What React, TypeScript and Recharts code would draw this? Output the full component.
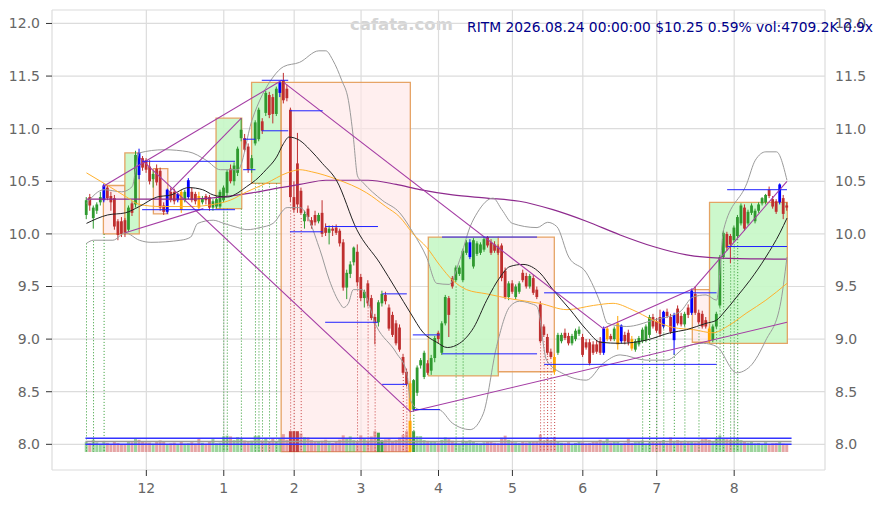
import React from 'react';
import {
  ComposedChart, Bar, Line, XAxis, YAxis, CartesianGrid,
  ReferenceArea, ReferenceLine, Cell,
} from 'recharts';

// ---------- axis labels ----------
const monthTicks = [17, 39, 59, 78, 100, 121, 141, 162, 184];
const monthLabels = ['12', '1', '2', '3', '4', '5', '6', '7', '8'];
const priceTicks = [8, 8.5, 9, 9.5, 10, 10.5, 11, 11.5, 12];
const titleText = 'RITM 2026.08.24 00:00:00 $10.25 0.59% vol:4709.2K 0.9x';
const watermark = 'cafata.com';

// ---------- daily candles (Nov 5 2025 .. Aug 24 2026) ----------
const opens = [
  10.18, 10.35, 10.15, 10.22, 10.30, 10.32, 10.44, 10.36, 10.34, 10.12,
  10.12, 10.13, 10.04, 10.29, 10.28, 10.77, 10.72, 10.70, 10.64, 10.52,
  10.62, 10.60, 10.27, 10.21, 10.40, 10.40, 10.32, 10.40, 10.32, 10.35,
  10.40, 10.38, 10.36, 10.30, 10.36, 10.35, 10.25, 10.26, 10.26, 10.32,
  10.39, 10.62, 10.50, 10.58, 10.91, 10.91, 10.83, 10.62, 10.86, 10.90,
  11.07, 11.15, 11.32, 11.30, 11.14, 11.34, 11.46, 11.38, 11.18, 10.35,
  10.67, 10.41, 10.12, 10.24, 10.13, 10.18, 10.12, 10.20, 10.06, 10.01,
  10.05, 10.06, 10.03, 9.92, 9.49, 9.62, 9.73, 9.83, 9.59, 9.39,
  9.53, 9.39, 9.21, 9.16, 9.34, 9.42, 9.30, 9.23, 9.15, 9.11,
  8.83, 8.69, 8.58, 8.33, 8.49, 8.75, 8.64, 8.77, 8.70, 8.82,
  9.06, 8.87, 9.15, 9.39, 9.58, 9.56, 9.62, 9.56, 9.82, 9.78,
  9.69, 9.81, 9.82, 9.85, 9.97, 9.92, 9.90, 9.88, 9.89, 9.65,
  9.40, 9.53, 9.40, 9.45, 9.63, 9.60, 9.50, 9.58, 9.47, 9.33,
  9.12, 9.02, 8.88, 8.83, 8.87, 8.98, 9.06, 9.03, 8.96, 9.00,
  9.05, 9.02, 8.97, 8.97, 8.95, 8.95, 8.98, 8.87, 9.00, 9.03,
  9.00, 8.95, 8.98, 9.04, 9.06, 9.00, 8.90, 8.95, 8.98, 8.99,
  9.04, 9.21, 9.17, 9.21, 9.12, 9.26, 9.21, 8.99, 9.29, 9.22,
  9.14, 9.30, 9.25, 9.43, 9.25, 9.24, 9.18, 9.10, 8.99, 9.12,
  9.32, 9.78, 10.00, 9.98, 9.94, 9.98, 10.10, 10.25, 10.10, 10.20,
  10.12, 10.22, 10.29, 10.30, 10.42, 10.33, 10.31, 10.30, 10.34, 10.27,
];
const highs = [
  10.35, 10.38, 10.27, 10.30, 10.40, 10.48, 10.46, 10.40, 10.37, 10.14,
  10.16, 10.15, 10.27, 10.31, 10.79, 10.81, 10.74, 10.72, 10.70, 10.60,
  10.66, 10.63, 10.30, 10.43, 10.44, 10.43, 10.39, 10.42, 10.42, 10.53,
  10.44, 10.40, 10.40, 10.36, 10.38, 10.37, 10.33, 10.36, 10.42, 10.46,
  10.61, 10.66, 10.68, 10.83, 11.10, 10.95, 10.86, 10.75, 11.08, 11.20,
  11.10, 11.36, 11.35, 11.33, 11.40, 11.45, 11.53, 11.42, 11.20, 10.50,
  10.96, 10.44, 10.22, 10.27, 10.16, 10.22, 10.20, 10.32, 10.10, 10.08,
  10.08, 10.09, 10.05, 9.95, 9.66, 9.74, 9.88, 9.90, 9.62, 9.47,
  9.56, 9.42, 9.24, 9.37, 9.46, 9.45, 9.33, 9.26, 9.18, 9.14,
  8.86, 8.72, 8.60, 8.62, 8.75, 8.82, 8.89, 8.80, 8.85, 9.03,
  9.08, 9.17, 9.42, 9.41, 9.60, 9.70, 9.70, 9.86, 9.94, 9.95,
  9.96, 9.93, 9.92, 9.97, 9.98, 9.95, 9.93, 9.90, 9.91, 9.68,
  9.55, 9.56, 9.52, 9.55, 9.66, 9.63, 9.62, 9.61, 9.50, 9.36,
  9.14, 9.05, 8.91, 8.86, 9.06, 9.06, 9.10, 9.06, 9.05, 9.10,
  9.12, 9.05, 9.00, 9.00, 8.98, 8.99, 9.02, 9.12, 9.12, 9.05,
  9.12, 9.22, 9.14, 9.07, 9.09, 9.03, 9.00, 9.03, 9.11, 9.14,
  9.23, 9.24, 9.20, 9.28, 9.27, 9.29, 9.24, 9.25, 9.32, 9.25,
  9.26, 9.33, 9.48, 9.50, 9.28, 9.27, 9.21, 9.12, 9.14, 9.26,
  9.80, 10.03, 10.02, 10.00, 10.08, 10.18, 10.29, 10.28, 10.23, 10.29,
  10.24, 10.30, 10.35, 10.38, 10.45, 10.36, 10.33, 10.48, 10.37, 10.30,
];
const lows = [
  10.14, 10.22, 10.05, 10.19, 10.27, 10.30, 10.32, 10.22, 10.04, 9.94,
  9.97, 9.97, 10.02, 10.17, 10.25, 10.52, 10.60, 10.58, 10.47, 10.44,
  10.46, 10.22, 10.18, 10.19, 10.30, 10.28, 10.30, 10.20, 10.30, 10.33,
  10.30, 10.28, 10.22, 10.28, 10.28, 10.22, 10.22, 10.24, 10.24, 10.30,
  10.36, 10.48, 10.46, 10.55, 10.88, 10.78, 10.58, 10.58, 10.84, 10.88,
  10.95, 11.12, 11.10, 11.05, 11.12, 11.30, 11.24, 11.26, 10.30, 10.20,
  10.20, 10.18, 10.05, 10.12, 10.05, 10.08, 10.10, 9.97, 9.98, 9.90,
  9.98, 9.99, 9.88, 9.46, 9.38, 9.58, 9.70, 9.50, 9.36, 9.30,
  9.31, 9.18, 8.95, 9.12, 9.31, 9.33, 9.08, 9.02, 8.94, 8.88,
  8.66, 8.55, 8.30, 8.31, 8.46, 8.72, 8.62, 8.66, 8.66, 8.78,
  8.96, 8.85, 9.13, 9.02, 9.48, 9.54, 9.60, 9.54, 9.80, 9.76,
  9.67, 9.79, 9.80, 9.83, 9.87, 9.80, 9.82, 9.80, 9.55, 9.38,
  9.37, 9.43, 9.38, 9.43, 9.54, 9.48, 9.48, 9.42, 9.38, 8.96,
  9.02, 8.85, 8.81, 8.66, 8.85, 8.96, 8.99, 8.94, 8.94, 8.98,
  9.03, 8.83, 8.90, 8.75, 8.85, 8.86, 8.85, 8.85, 8.98, 8.98,
  8.98, 8.90, 8.96, 8.95, 8.94, 8.89, 8.88, 8.93, 8.96, 8.97,
  9.02, 9.10, 9.06, 9.02, 9.10, 9.20, 9.05, 8.85, 9.13, 9.12,
  9.12, 9.20, 9.23, 9.23, 9.14, 9.10, 9.10, 8.96, 8.97, 9.10,
  9.30, 9.76, 9.84, 9.72, 9.92, 9.96, 10.08, 10.03, 10.08, 10.18,
  10.10, 10.20, 10.27, 10.28, 10.34, 10.24, 10.19, 10.28, 10.14, 10.22,
];
const closes = [
  10.32, 10.27, 10.25, 10.28, 10.35, 10.46, 10.34, 10.30, 10.07, 9.99,
  10.00, 10.01, 10.25, 10.20, 10.75, 10.56, 10.63, 10.61, 10.50, 10.57,
  10.49, 10.25, 10.21, 10.42, 10.32, 10.31, 10.38, 10.23, 10.40, 10.51,
  10.32, 10.31, 10.25, 10.34, 10.32, 10.25, 10.31, 10.33, 10.40, 10.44,
  10.59, 10.50, 10.65, 10.81, 10.99, 10.80, 10.61, 10.72, 11.06, 11.18,
  10.98, 11.34, 11.13, 11.14, 11.38, 11.44, 11.27, 11.29, 10.35, 10.23,
  10.28, 10.20, 10.19, 10.16, 10.08, 10.11, 10.18, 10.00, 10.01, 10.05,
  10.03, 10.01, 9.91, 9.49, 9.63, 9.71, 9.87, 9.54, 9.39, 9.45,
  9.34, 9.20, 9.15, 9.35, 9.43, 9.36, 9.10, 9.04, 8.96, 8.90,
  8.68, 8.57, 8.33, 8.61, 8.73, 8.80, 8.87, 8.68, 8.82, 9.01,
  9.00, 9.15, 9.40, 9.23, 9.50, 9.68, 9.68, 9.84, 9.92, 9.92,
  9.94, 9.91, 9.90, 9.95, 9.89, 9.82, 9.84, 9.82, 9.58, 9.40,
  9.53, 9.45, 9.50, 9.53, 9.56, 9.50, 9.60, 9.44, 9.40, 8.98,
  9.04, 8.87, 8.83, 8.69, 9.04, 9.04, 9.01, 8.96, 9.03, 9.08,
  9.09, 8.85, 8.92, 8.77, 8.87, 8.88, 8.87, 9.10, 9.10, 9.00,
  9.10, 9.15, 9.13, 8.98, 8.97, 8.91, 8.98, 9.01, 9.09, 9.12,
  9.21, 9.12, 9.08, 9.05, 9.26, 9.22, 9.07, 9.23, 9.15, 9.14,
  9.24, 9.23, 9.46, 9.25, 9.16, 9.12, 9.12, 8.98, 9.12, 9.24,
  9.78, 10.01, 9.87, 9.90, 10.06, 10.16, 10.27, 10.05, 10.21, 10.27,
  10.22, 10.28, 10.34, 10.37, 10.36, 10.26, 10.21, 10.47, 10.19, 10.25,
];
// volume in thousands of shares
const volumes = [
  6700, 6000, 8300, 6500, 5500, 7000, 6200, 5400, 6800, 6000,
  5200, 4800, 7300, 6600, 9000, 8200, 7200, 6500, 6400, 5600,
  7200, 7800, 6900, 5200, 5800, 6300, 5100, 7400, 5600, 5900,
  6600, 5700, 9400, 6200, 5500, 6800, 8700, 5900, 6300, 10500,
  11000, 10500, 8000, 10000, 9200, 7800, 6900, 7600, 11000, 11000,
  7800, 9500, 7400, 8800, 7000, 9000, 12000, 8200, 14000, 14000,
  14000, 12500, 10000, 9800, 8000, 7300, 6800, 7600, 8200, 6500,
  6100, 7000, 8300, 11200, 9000, 10500, 8000, 7200, 11200, 8600,
  7700, 10500, 14000, 13000, 7800, 8400, 9200, 7600, 8000, 9700,
  11500, 14000, 21000, 14000, 10700, 10700, 8000, 7500, 6800, 7200,
  6400, 8200, 9800, 8600, 7600, 6300, 5800, 7700, 6900, 7900,
  7200, 6100, 5800, 6500, 7400, 6800, 6200, 5900, 9600, 11000,
  8200, 7300, 6500, 6000, 7000, 6400, 6800, 7200, 6800, 11800,
  7500, 8600, 7800, 10200, 7200, 6200, 5900, 6600, 5400, 6100,
  7200, 6500, 5800, 6100, 7000, 6700, 8200, 6900, 9100, 6400,
  7100, 6800, 5900, 6200, 8800, 6000, 6600, 6800, 7700, 5600,
  6400, 6900, 6200, 7100, 8000, 6300, 9800, 6900, 8000, 7200,
  6600, 7100, 6900, 6500, 7400, 8600, 9000, 8200, 7400, 9000,
  11200, 9500, 8600, 8300, 7800, 9400, 8000, 7200, 6300, 6900,
  5800, 6100, 5400, 6600, 5200, 5800, 6000, 6900, 5600, 4709,
];
const blueCandles = [5, 15, 23, 26, 29, 55, 109, 147, 152, 164, 167, 172, 197];
const orangeCandles = [27, 32, 92, 133, 148, 151, 155, 177];
const strongVolume = [58, 59, 60, 83, 84, 92, 93];

// ---------- indicator lines: [index, price] ----------
const middleBand = [
  [0, 10.10], [6, 10.18], [11, 10.20], [15, 10.26], [20, 10.35], [24, 10.37], [29, 10.44],
  [33, 10.42], [36, 10.37], [40, 10.35], [43, 10.39], [45.5, 10.45], [48, 10.51], [51, 10.61],
  [54, 10.73], [56, 10.86], [57.5, 10.92], [60.5, 10.89], [63.5, 10.80], [67, 10.67],
  [71, 10.51], [76.8, 10.04], [83.4, 9.72], [88, 9.47], [92, 9.25], [95.7, 9.06], [99.5, 8.97],
  [102.5, 8.92], [106, 8.96], [110, 9.11], [113.7, 9.37], [117.5, 9.59], [120.3, 9.69],
  [124, 9.71], [128.8, 9.63], [132.5, 9.47], [137.4, 9.28], [142, 9.09], [146, 8.97],
  [151.6, 8.96], [159, 8.99], [165.8, 9.06], [170.5, 9.09], [176, 9.15], [179, 9.18],
  [181, 9.25], [184.7, 9.40], [188.5, 9.56], [193, 9.78], [197, 10.01], [199, 10.15],
];
const slowAverage = [
  [0, 10.58], [6, 10.46], [11.4, 10.35], [15, 10.28], [21, 10.26], [29.4, 10.26], [36, 10.28],
  [40.8, 10.32], [45.5, 10.40], [51, 10.48], [57, 10.58], [60.6, 10.61], [64, 10.59],
  [71, 10.52], [79.6, 10.39], [85, 10.26], [89, 10.16], [92.8, 10.0], [96.7, 9.87],
  [100.4, 9.70], [104, 9.56], [108, 9.47], [113.7, 9.43], [121, 9.38], [128.8, 9.34],
  [136.5, 9.28], [144, 9.32], [149.6, 9.34], [155, 9.28], [161, 9.18], [166.7, 9.11],
  [172.4, 9.09], [178, 9.06], [182, 9.12], [187.6, 9.25], [193, 9.37], [199, 9.53],
];
const upperBand = [
  [0, 10.29], [5, 10.42], [10, 10.40], [13, 10.45], [14, 10.62], [15, 10.77], [22, 10.80],
  [29, 10.78], [34, 10.70], [38, 10.61], [43, 10.61], [47, 11.08], [53, 11.49], [56, 11.59],
  [60.5, 11.63], [66, 11.74], [68, 11.74], [70, 11.65], [72.5, 11.46], [74.4, 11.27],
  [75.8, 10.92], [77, 10.55], [78.5, 10.49], [84, 10.32], [89, 10.20], [92.8, 10.01],
  [96.6, 9.78], [99.5, 9.53], [103, 9.52], [106, 9.75], [109, 10.07], [111, 10.20],
  [115.5, 10.34], [118, 10.23], [121, 10.10], [128, 10.06], [131, 10.11], [133.6, 10.07],
  [137, 9.78], [142, 9.63], [146, 9.34], [148, 9.15], [153.5, 9.12], [161, 9.18],
  [168.6, 9.26], [172.3, 9.40], [176, 9.42], [179, 9.37], [181, 10.04], [187.6, 10.48],
  [190, 10.70], [193, 10.78], [196, 10.78], [199, 10.51],
];
const lowerBand = [
  [0, 9.91], [2, 9.94], [7.5, 9.94], [11, 10.01], [15, 9.94], [18.3, 9.92], [26.8, 9.94],
  [29.6, 9.97], [31.6, 10.10], [36, 10.13], [39, 10.10], [43, 10.06], [45.6, 10.04],
  [49.3, 10.06], [53, 10.10], [57, 10.25], [60.6, 10.25], [66.3, 9.85], [69, 9.56],
  [72, 9.34], [73, 9.30], [74.4, 9.34], [75.8, 9.47], [78.2, 9.47], [82.4, 9.12],
  [88, 8.87], [91, 8.68], [92, 8.42], [94.7, 8.33], [100, 8.33], [104, 8.20], [109, 8.14],
  [112.7, 8.29], [116.5, 8.93], [120.3, 9.31], [123, 9.36], [126, 9.34], [128, 9.31],
  [130.7, 8.80], [135.5, 8.67], [142, 8.61], [146.8, 8.77], [151.6, 8.85], [159, 8.80],
  [164.8, 8.80], [170.5, 8.93], [175.2, 8.96], [179, 8.93], [184.7, 8.68], [188.5, 8.74],
  [193, 8.99], [197, 9.31], [199, 9.78],
];
const longAverage = [
  [0, 10.33], [29, 10.33], [38, 10.35], [47, 10.39], [55, 10.44], [60.6, 10.47], [68, 10.51],
  [80, 10.51], [88, 10.47], [94.7, 10.42], [104, 10.37], [113.7, 10.34], [123, 10.31],
  [132.5, 10.23], [142, 10.12], [151.6, 9.99], [161, 9.88], [170.5, 9.80], [180, 9.77],
  [199, 9.76],
];
// trend lines: [index1, price1, index2, price2]
const trendLines = [
  [4.7, 10.45, 55.5, 11.46],
  [15.2, 10.72, 92, 8.31],
  [11, 10.01, 33.2, 10.24],
  [23.5, 10.40, 44, 11.10],
  [56, 11.44, 146.8, 9.10],
  [146.8, 9.10, 172.5, 9.48],
  [172.5, 9.48, 199, 10.50],
  [92, 8.31, 199, 9.16],
];
// level segments: [index1, index2, price]
const levels = [
  [15.8, 42.2, 10.69], [15.8, 42.2, 10.23], [44.5, 48, 10.61], [44.5, 48, 10.90],
  [49.8, 57.3, 11.46], [49.8, 57.3, 10.98], [57.8, 67.1, 11.17], [57.8, 67.1, 10.02],
  [67.8, 82.8, 10.07], [67.8, 82.8, 9.16], [84, 91, 9.43], [84, 91, 8.57],
  [92.7, 100.4, 9.04], [92.7, 100.4, 8.33], [101, 128, 9.97], [101, 128, 8.86],
  [130, 179, 9.44], [130, 179, 8.76], [182, 199, 10.42], [182, 199, 9.88],
];
// trend boxes: [index1, index2, top, bottom, up(1)/down(0)]
const boxes = [
  [4.8, 10.9, 10.46, 10.0, 0], [10.9, 15, 10.77, 10.0, 1], [19, 23.1, 10.62, 10.19, 0],
  [36.8, 44.1, 11.10, 10.24, 1], [46.9, 55.3, 11.44, 10.48, 1], [55.3, 92, 11.44, 7.93, 0],
  [97.1, 117, 9.97, 8.65, 1], [117, 132.9, 9.97, 8.69, 0], [172.1, 177, 9.47, 8.97, 0],
  [177, 199.1, 10.30, 8.96, 1],
];
// signal markers: [index, start price, kind 1=buy 0=sell 2=neutral]
const signals = [
  [0, 9.91, 1], [2, 9.93, 1], [5, 10.0, 1], [39, 10.24, 1], [40, 10.24, 1], [44, 10.24, 1],
  [48, 10.48, 1], [49, 10.48, 1], [50, 10.48, 1], [52, 10.48, 1], [54, 10.48, 1],
  [58, 10.28, 0], [59, 10.18, 0], [61, 10.15, 0], [77, 9.52, 0], [80, 9.33, 0], [82, 9.14, 0],
  [90, 8.64, 0], [91, 8.54, 0], [92, 8.28, 2], [93, 8.28, 1], [105, 9.5, 1], [107, 9.5, 1],
  [129, 8.95, 0], [130, 8.98, 0], [131, 8.84, 0], [132, 8.78, 0], [133, 8.64, 0],
  [158, 8.93, 1], [160, 9.02, 1], [162, 9.02, 1], [164, 9.12, 1], [167, 8.86, 1],
  [170, 9.12, 1], [174, 9.14, 1], [179, 9.16, 1], [180, 9.30, 1], [181, 9.74, 1],
  [183, 9.70, 1], [184, 9.90, 1], [185, 9.95, 1],
];
// volume reference levels (thousands)
const volumeLevels = [9213, 7061, 5178];

// ---------- derived tables ----------
const GREEN = '#2f9a2f';
const RED = '#bf2f2f';
const candleColor = (i: number) => {
  if (blueCandles.includes(i)) return '#0000ff';
  if (orangeCandles.includes(i)) return '#ffa500';
  return closes[i] >= opens[i] ? GREEN : RED;
};
const chartData = closes.map((c, i) => ({
  x: i, o: opens[i], h: highs[i], l: lows[i], c, vol: volumes[i], col: candleColor(i),
}));
const pts = (arr: number[][]) => arr.map(([x, y]) => ({ x, y }));

const PRICE_DOMAIN: [number, number] = [7.756, 12.128];
const X_DOMAIN: [number, number] = [-9.8, 209.8];
const VOL_DOMAIN: [number, number] = [-12105, 297243];
const tickStyle = { fill: '#666', fontSize: 14, fontFamily: 'DejaVu Sans' };

const Candle = (props: any) => {
  const { x, width, payload } = props;
  const y = Number(props.y);
  const height = Number(props.height);
  if (!payload || x == null || !isFinite(y)) return null;
  const top = Math.min(y, y + height);
  const bottom = Math.max(y, y + height);
  const span = payload.h - payload.l || 1;
  const py = (v: number) => top + ((payload.h - v) / span) * (bottom - top);
  const bTop = py(Math.max(payload.o, payload.c));
  const bBot = py(Math.min(payload.o, payload.c));
  const w = 2.8;
  const cx = x + width / 2;
  return (
    <g>
      <line x1={cx} x2={cx} y1={top} y2={bottom} stroke={payload.col} strokeWidth={1} />
      <rect x={cx - w / 2} y={bTop} width={w} height={Math.max(1, bBot - bTop)} fill={payload.col} />
    </g>
  );
};

const lineProps = {
  xAxisId: 'ln', dataKey: 'y', type: 'monotone' as const, dot: false, activeDot: false,
  isAnimationActive: false,
};

export default function App() {
  return (
    <div style={{ position: 'absolute', left: 0, top: 0, width: 883, height: 505 }}>
      <div style={{
        position: 'absolute', left: 350, top: 15, fontFamily: 'DejaVu Sans', fontWeight: 'bold',
        fontSize: 16.5, lineHeight: '20px', color: '#d4d4d4', whiteSpace: 'nowrap',
      }}>{watermark}</div>
      <div style={{ position: 'absolute', left: 0, top: 0 }}>
        <ComposedChart width={883} height={505} data={chartData}
          margin={{ top: 10, right: 0, bottom: 0, left: 0 }}>
          <CartesianGrid stroke="#dcdcdc" strokeWidth={1.2} />
          <XAxis dataKey="x" type="number" domain={X_DOMAIN} allowDataOverflow
            ticks={monthTicks} tickFormatter={(v: number) => monthLabels[monthTicks.indexOf(v)] ?? ''}
            axisLine={false} tickLine={{ stroke: '#333' }} tickSize={6} tickMargin={7}
            height={35} tick={tickStyle} interval={0} />
          <XAxis xAxisId="v" dataKey="x" type="number" domain={X_DOMAIN} allowDataOverflow hide />
          <XAxis xAxisId="ln" dataKey="x" type="number" domain={X_DOMAIN} allowDataOverflow hide />
          <YAxis type="number" domain={PRICE_DOMAIN} allowDataOverflow ticks={priceTicks}
            tickFormatter={(v: number) => v.toFixed(1)} width={52} axisLine={false}
            tickLine={{ stroke: '#333' }} tickSize={6} tickMargin={6} tick={tickStyle} interval={0} />
          <YAxis yAxisId="pr" orientation="right" type="number" domain={PRICE_DOMAIN} allowDataOverflow
            ticks={priceTicks} tickFormatter={(v: number) => v.toFixed(1)} width={58}
            axisLine={false} tickLine={false} tickSize={4} tickMargin={6} tick={tickStyle} interval={0} />
          <YAxis yAxisId="vol" type="number" domain={VOL_DOMAIN} allowDataOverflow hide />

          {boxes.map(([a, b, t, btm, up], k) => (
            <ReferenceArea key={'b' + k} x1={a} x2={b} y1={btm} y2={t}
              fill={up ? '#c6f7c6' : '#ffe6e6'} fillOpacity={up ? 0.9 : 0.65}
              stroke="#e39a55" strokeWidth={1.3} strokeOpacity={0.9} ifOverflow="visible" />
          ))}

          {signals.map(([i, p, kind], k) => (
            <ReferenceLine key={'s' + k} segment={[{ x: i, y: p }, { x: i, y: 7.93 }]}
              stroke={kind === 1 ? '#2f9a2f' : kind === 0 ? '#c84040' : '#ffa500'}
              strokeWidth={1} strokeDasharray="1 2" />
          ))}

          <Bar xAxisId="v" yAxisId="vol" dataKey="vol" barSize={3} isAnimationActive={false}>
            {chartData.map((d, i) => {
              const strong = strongVolume.includes(i);
              const base = i === 92 ? '#ffa500' : d.c >= d.o ? (strong ? '#3c9c3c' : '#5cb85c') : (strong ? '#c03a3a' : '#d36a6a');
              return <Cell key={'v' + i} fill={base} fillOpacity={strong ? 0.95 : 0.6} />;
            })}
          </Bar>
          {volumeLevels.map((v, k) => (
            <ReferenceLine key={'vl' + k} xAxisId="v" yAxisId="vol"
              segment={[{ x: -0.3, y: v }, { x: 200.3, y: v }]}
              stroke={k === 1 ? '#999999' : '#3333ff'} strokeWidth={1.4} />
          ))}

          <Line {...lineProps} data={pts(longAverage)} stroke="#8e2a8e" strokeWidth={1.2} />
          <Line {...lineProps} data={pts(upperBand)} stroke="#9a9a9a" strokeWidth={1} />
          <Line {...lineProps} data={pts(lowerBand)} stroke="#9a9a9a" strokeWidth={1} />
          <Line {...lineProps} data={pts(slowAverage)} stroke="#ffb12e" strokeWidth={1} />
          <Line {...lineProps} data={pts(middleBand)} stroke="#222222" strokeWidth={1} />

          {trendLines.map(([a, p1, b, p2], k) => (
            <ReferenceLine key={'t' + k} segment={[{ x: a, y: p1 }, { x: b, y: p2 }]}
              stroke="#a43ca4" strokeWidth={1.1} />
          ))}

          <Bar dataKey={(d: any) => [d.l, d.h]} barSize={3} isAnimationActive={false}
            shape={(p: any) => <Candle {...p} />} />

          {levels.map(([a, b, p], k) => (
            <ReferenceLine key={'l' + k} segment={[{ x: a, y: p }, { x: b, y: p }]}
              stroke="#2020ff" strokeWidth={1} />
          ))}
        </ComposedChart>
      </div>
      <div style={{
        position: 'absolute', left: 0, width: 873, top: 18, textAlign: 'right',
        fontFamily: 'DejaVu Sans', fontSize: 13.8, lineHeight: '18px', color: '#00008b', whiteSpace: 'nowrap',
      }}>{titleText}</div>
    </div>
  );
}
